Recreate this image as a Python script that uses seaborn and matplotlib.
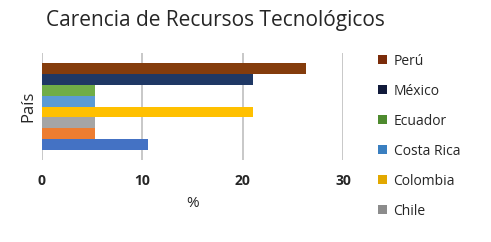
import matplotlib
matplotlib.use("Agg")
import matplotlib.pyplot as plt
import seaborn as sns
import pandas as pd
from matplotlib.patches import Patch

# data (%)
paises = ["Perú", "México", "Ecuador", "Costa Rica", "Colombia", "Chile", "Bolivia", "Argentina"]
valores = [26.3, 21.05, 5.26, 5.26, 21.05, 5.26, 5.26, 10.53]
colores = ["#843C0C", "#1F3864", "#70AD47", "#5B9BD5", "#FFC000", "#A5A5A5", "#ED7D31", "#4472C4"]
legend_colors = ["#7B2C0A", "#111A3A", "#4E8A2E", "#3A7FC0", "#E2A800", "#8C8C8C"]
x_ticks = [0, 10, 20, 30]

df = pd.DataFrame({"grupo": ["País"] * len(paises), "pct": valores, "pais": paises})

sns.set_theme(style="white")
plt.rcParams["font.family"] = ["Open Sans", "DejaVu Sans"]

fig = plt.figure(figsize=(4.91, 2.42), dpi=100)
ax = fig.add_axes([42 / 491, 1 - 160 / 242, 301 / 491, 107 / 242])

sns.barplot(data=df, x="pct", y="grupo", hue="pais", palette=colores,
            orient="h", width=0.82, legend=False, ax=ax, saturation=1,
            linewidth=0)

ax.set_xlim(0, 30)
ax.set_ylim(0.5, -0.5)
ax.set_xticks(x_ticks)
ax.set_xticklabels([str(t) for t in x_ticks], fontsize=10, fontweight="bold")
ax.tick_params(axis="x", length=0, pad=10)
ax.set_yticks([])
ax.grid(axis="x", color="#BFBFBF", linewidth=1.2)
ax.set_axisbelow(True)
for s in ax.spines.values():
    s.set_visible(False)

ax.set_xlabel("%", fontsize=11, labelpad=6)
ax.set_ylabel("País", fontsize=12, labelpad=4)

fig.suptitle("Carencia de Recursos Tecnológicos", fontsize=15, x=0.438, y=0.96)

handles = [Patch(facecolor=c, edgecolor="none") for c in legend_colors]
fig.legend(handles, paises[:6], loc="upper left", bbox_to_anchor=(0.745, 0.83),
           frameon=False, fontsize=10, handlelength=0.6, handleheight=0.6,
           handletextpad=0.5, labelspacing=1.08)

fig.savefig("out.png", dpi=100)
